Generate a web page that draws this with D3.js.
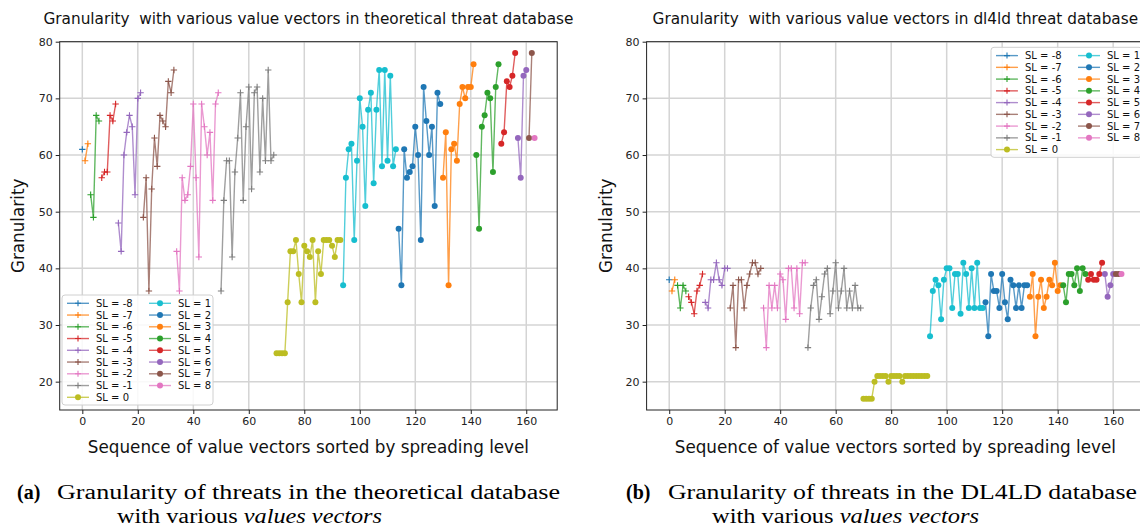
<!DOCTYPE html>
<html>
<head>
<meta charset="utf-8">
<script src="https://cdn.jsdelivr.net/npm/d3@7/dist/d3.min.js"></script>
<style>
  body { margin: 0; background: #fff; }
  svg text { font-family: "DejaVu Sans", sans-serif; }
  svg text.caption { font-family: "Liberation Serif", "DejaVu Serif", serif; }
</style>
</head>
<body>
<div id="chart"></div>
<script>
// spreading levels, one series each
const slLevels = [-8, -7, -6, -5, -4, -3, -2, -1, 0, 1, 2, 3, 4, 5, 6, 7, 8];

// granularity per value vector, theoretical database
const theoreticalSeries = [
    [61],
    [59, 62],
    [53, 49, 67, 66],
    [56, 57, 57, 67, 66, 69],
    [48, 43, 60, 64, 67, 65, 53, 70, 71],
    [49, 56, 36, 54, 63, 58, 67, 66, 65, 73, 71, 75],
    [43, 36, 56, 52, 53, 58, 69, 56, 42, 69, 65, 60, 64, 52, 69, 71],
    [36, 52, 59, 59, 42, 57, 63, 71, 52, 65, 72, 54, 71, 72, 57, 70, 59, 75, 59, 60],
    [25, 25, 25, 25, 34, 43, 43, 45, 39, 34, 44, 43, 42, 45, 34, 43, 39, 45, 45, 45, 44, 42, 45, 45],
    [37, 56, 61, 62, 45, 59, 70, 65, 51, 68, 71, 55, 68, 75, 58, 75, 59, 74, 58, 61],
    [47, 37, 61, 56, 57, 58, 65, 60, 45, 72, 66, 60, 65, 51, 71, 69],
    [56, 64, 37, 61, 62, 59, 69, 72, 70, 72, 72, 76],
    [60, 47, 65, 67, 71, 70, 57, 72, 76],
    [62, 64, 73, 72, 74, 78],
    [63, 56, 74, 75],
    [63, 78],
    [63]
];

// granularity per value vector, dl4ld database
const dl4ldSeries = [
    [38],
    [36, 38],
    [37, 33, 37, 36],
    [35, 34, 32, 36, 37, 39],
    [34, 33, 38, 38, 41, 38, 37, 40, 40],
    [33, 37, 26, 38, 38, 33, 37, 39, 41, 41, 39, 40],
    [33, 26, 37, 33, 37, 33, 39, 38, 31, 40, 40, 33, 40, 32, 41, 41],
    [26, 33, 37, 38, 31, 35, 39, 40, 32, 36, 41, 33, 36, 40, 33, 36, 33, 37, 33, 33],
    [17, 17, 17, 17, 20, 21, 21, 21, 21, 20, 21, 21, 21, 21, 20, 21, 21, 21, 21, 21, 21, 21, 21, 21],
    [28, 36, 38, 37, 31, 38, 40, 40, 33, 39, 39, 32, 41, 39, 33, 40, 33, 41, 33, 33],
    [34, 28, 39, 36, 36, 33, 39, 34, 31, 38, 37, 33, 37, 33, 37, 37],
    [35, 39, 28, 35, 38, 33, 35, 38, 37, 41, 36, 37],
    [37, 34, 39, 39, 37, 40, 36, 40, 39],
    [38, 39, 38, 38, 39, 41],
    [39, 35, 37, 39],
    [39, 39],
    [39]
];

const xTicks = [0, 20, 40, 60, 80, 100, 120, 140, 160];
const yTicks = [20, 30, 40, 50, 60, 70, 80];
const tab10 = ['#1f77b4', '#ff7f0e', '#2ca02c', '#d62728', '#9467bd',
               '#8c564b', '#e377c2', '#7f7f7f', '#bcbd22', '#17becf'];

const width = 1140, height = 528;

const svg = d3.select('#chart').append('svg')
    .attr('width', width)
    .attr('height', height);

const panels = [
    {
        left: 59.7, right: 557.2, series: theoreticalSeries,
        title: 'Granularity  with various value vectors in theoretical threat database',
        legend: { x: 62, y: 295 },
        ylabelX: 18,
        capLabel: '(a)', capLabelX: 17, capStart: 57, capEnd: 560,
        capLine1: 'Granularity of threats in the theoretical database',
        cap2Start: 117, cap2End: 382
    },
    {
        left: 646.6, right: 1144.1, series: dl4ldSeries,
        title: 'Granularity  with various value vectors in dl4ld threat database',
        legend: { x: 991, y: 47.3 },
        ylabelX: 606,
        capLabel: '(b)', capLabelX: 626, capStart: 668, capEnd: 1137,
        capLine1: 'Granularity of threats in the DL4LD database',
        cap2Start: 712, cap2End: 979
    }
];

const plotTop = 41.7, plotBottom = 410;

panels.forEach(p => drawPanel(p));

function drawPanel(p) {
    const x = d3.scaleLinear().domain([-8.15, 171.15]).range([p.left, p.right]);
    const y = d3.scaleLinear().domain([15, 80]).range([plotBottom, plotTop]);
    const g = svg.append('g');

    // clip for the plotting area
    const clipId = 'clip' + Math.round(p.left);
    svg.append('clipPath').attr('id', clipId)
        .append('rect')
        .attr('x', p.left).attr('y', plotTop)
        .attr('width', p.right - p.left).attr('height', plotBottom - plotTop);

    // grid
    g.append('g').selectAll('line').data(xTicks).join('line')
        .attr('x1', d => x(d)).attr('x2', d => x(d))
        .attr('y1', plotTop).attr('y2', plotBottom)
        .attr('stroke', '#d4d4d4').attr('stroke-width', 1.5);
    g.append('g').selectAll('line').data(yTicks).join('line')
        .attr('y1', d => y(d)).attr('y2', d => y(d))
        .attr('x1', p.left).attr('x2', p.right)
        .attr('stroke', '#d4d4d4').attr('stroke-width', 1.5);

    // build index positions along the sorted sequence
    let idx = 0;
    const seriesData = p.series.map((vals, i) => {
        const pts = vals.map(v => ({ i: idx++, v }));
        return { sl: slLevels[i], color: tab10[i % 10], pts };
    });

    const plot = g.append('g').attr('clip-path', `url(#${clipId})`);
    const line = d3.line().x(d => x(d.i)).y(d => y(d.v));

    seriesData.forEach(s => {
        plot.append('path')
            .attr('d', line(s.pts))
            .attr('fill', 'none')
            .attr('stroke', s.color)
            .attr('stroke-width', 1.4)
            .attr('stroke-opacity', 0.75);
        if (s.sl < 0) {
            plot.append('g').selectAll('path').data(s.pts).join('path')
                .attr('transform', d => `translate(${x(d.i)},${y(d.v)})`)
                .attr('d', 'M-3.2,0H3.2M0,-3.2V3.2')
                .attr('stroke', s.color)
                .attr('stroke-width', 1.1);
        } else {
            plot.append('g').selectAll('circle').data(s.pts).join('circle')
                .attr('cx', d => x(d.i)).attr('cy', d => y(d.v))
                .attr('r', 3)
                .attr('fill', s.color);
        }
    });

    // frame
    g.append('rect')
        .attr('x', p.left).attr('y', plotTop)
        .attr('width', p.right - p.left).attr('height', plotBottom - plotTop)
        .attr('fill', 'none').attr('stroke', '#222').attr('stroke-width', 1);

    // axes
    const xAxis = d3.axisBottom(x).tickValues(xTicks).tickSize(4).tickPadding(3);
    const yAxis = d3.axisLeft(y).tickValues(yTicks).tickSize(4).tickPadding(3);
    const gx = g.append('g').attr('transform', `translate(0,${plotBottom})`).call(xAxis);
    const gy = g.append('g').attr('transform', `translate(${p.left},0)`).call(yAxis);
    [gx, gy].forEach(a => {
        a.select('.domain').remove();
        a.selectAll('line').attr('stroke', '#222');
        a.selectAll('text').attr('font-size', '11px').attr('fill', '#222');
    });

    const cx = (p.left + p.right) / 2;

    // title and axis labels
    g.append('text').attr('x', cx).attr('y', 24)
        .attr('text-anchor', 'middle').attr('font-size', '15.3px').attr('fill', '#111')
        .style('white-space', 'pre')
        .text(p.title);
    g.append('text').attr('x', cx).attr('y', 453)
        .attr('text-anchor', 'middle').attr('font-size', '16.8px').attr('fill', '#111')
        .text('Sequence of value vectors sorted by spreading level');
    g.append('text')
        .attr('transform', `translate(${p.ylabelX + 6},${(plotTop + plotBottom) / 2}) rotate(-90)`)
        .attr('text-anchor', 'middle').attr('font-size', '16.8px').attr('fill', '#111')
        .text('Granularity');

    // legend
    const lg = g.append('g').attr('transform', `translate(${p.legend.x},${p.legend.y})`);
    lg.append('rect')
        .attr('width', 151).attr('height', 110).attr('rx', 3)
        .attr('fill', '#fff').attr('fill-opacity', 0.85)
        .attr('stroke', '#d0d0d0');
    seriesData.forEach((s, k) => {
        const col = k < 9 ? 0 : 1;
        const row = k < 9 ? k : k - 9;
        const hx = col === 0 ? 5 : 87;
        const ry = 8.3 + row * 11.75;
        const item = lg.append('g').attr('transform', `translate(${hx},${ry})`);
        item.append('line').attr('x1', 0).attr('x2', 22).attr('y1', 0).attr('y2', 0)
            .attr('stroke', s.color).attr('stroke-width', 1.4).attr('stroke-opacity', 0.75);
        if (s.sl < 0) {
            item.append('path').attr('d', 'M8,0H14M11,-3V3')
                .attr('stroke', s.color).attr('stroke-width', 1.1);
        } else {
            item.append('circle').attr('cx', 11).attr('cy', 0).attr('r', 3).attr('fill', s.color);
        }
        item.append('text').attr('x', 29).attr('y', 3.6)
            .attr('font-size', '10px').attr('fill', '#111')
            .text(`SL = ${s.sl}`);
    });

    // caption below the panel
    const cap = svg.append('g').attr('fill', '#000');
    cap.append('text').attr('class', 'caption').attr('x', p.capLabelX).attr('y', 499)
        .attr('font-size', '20px').attr('font-weight', 'bold')
        .text(p.capLabel);
    cap.append('text').attr('class', 'caption').attr('x', p.capStart).attr('y', 499)
        .attr('font-size', '20px')
        .attr('textLength', p.capEnd - p.capStart).attr('lengthAdjust', 'spacingAndGlyphs')
        .text(p.capLine1);
    const l2 = cap.append('text').attr('class', 'caption').attr('x', p.cap2Start).attr('y', 523)
        .attr('font-size', '20px')
        .attr('textLength', p.cap2End - p.cap2Start).attr('lengthAdjust', 'spacingAndGlyphs');
    l2.append('tspan').text('with various ');
    l2.append('tspan').attr('font-style', 'italic').text('values vectors');
}
</script>
</body>
</html>
